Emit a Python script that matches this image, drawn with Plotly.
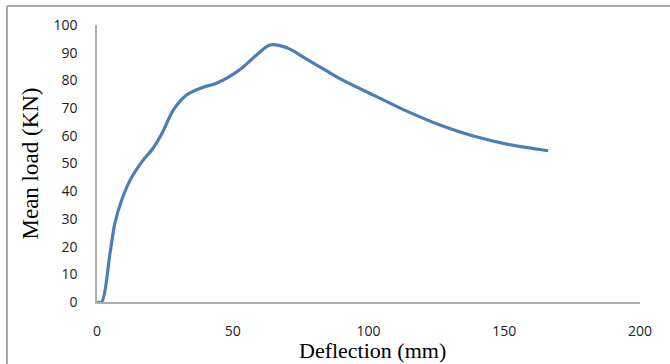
import plotly.graph_objects as go

deflection = [0, 1.7, 4.8, 6.6, 9.1, 12.2, 16.5, 20.7, 24, 28.1, 33, 37.9, 44, 47.8,
              53.3, 58.8, 63.7, 69.9, 76, 84.6, 90.7, 101.8, 114.1, 126.3, 138.6, 150.9, 166.2]
mean_load = [0, 0, 17.7, 28.5, 36.8, 44, 50.6, 55.6, 61, 69.3, 74.7, 77.1, 79, 80.8,
             84.4, 89.2, 92.8, 91.8, 88.4, 83.4, 80, 74.7, 68.9, 63.9, 59.9, 57, 54.6]
x_ticks = [0, 50, 100, 150, 200]
y_ticks = [0, 10, 20, 30, 40, 50, 60, 70, 80, 90, 100]

W, H = 670, 364
L, R, T, B = 97, 30, 25, 62
pw, ph = W - L - R, H - T - B

fig = go.Figure()
fig.add_trace(go.Scatter(
    x=deflection, y=mean_load, mode="lines",
    line=dict(color="#4A7EBB", width=3.2, shape="spline", smoothing=0.9),
    hoverinfo="skip", showlegend=False,
))

axis_font = dict(family="Open Sans, Liberation Sans, sans-serif", size=14, color="#222222")
title_font = dict(family="Liberation Serif, serif", size=23, color="#000000")
xtitle_font = dict(family="Liberation Serif, serif", size=22, color="#000000")

fig.update_layout(
    width=W, height=H,
    margin=dict(l=L, r=R, t=T, b=B),
    paper_bgcolor="white", plot_bgcolor="white",
    xaxis=dict(range=[0, 200], tickvals=x_ticks, showgrid=False, zeroline=False,
               showline=True, linecolor="#ADADAD", linewidth=1.5, ticks="",
               tickfont=axis_font, ticklabelstandoff=15, automargin=False),
    yaxis=dict(range=[0, 100], tickvals=y_ticks, showgrid=False, zeroline=False,
               showline=True, linecolor="#ADADAD", linewidth=1.5, ticks="",
               tickfont=axis_font, ticklabelstandoff=15, automargin=False,
               title=dict(text="Mean load (KN)", font=title_font, standoff=8)),
    annotations=[
        dict(text="Deflection (mm)", xref="paper", yref="paper",
             x=(372 - L) / pw, y=(H - B - 350) / ph, xanchor="center", yanchor="middle",
             showarrow=False, font=xtitle_font, borderpad=0),
    ],
    shapes=[
        dict(type="line", xref="paper", yref="paper",
             x0=(7 - L) / pw, x1=(W + 5 - L) / pw,
             y0=(H - B - 6) / ph, y1=(H - B - 6) / ph,
             line=dict(color="#A8A8A8", width=2)),
        dict(type="line", xref="paper", yref="paper",
             x0=(7 - L) / pw, x1=(7 - L) / pw,
             y0=(H - B - 6) / ph, y1=(H - B - H - 5) / ph,
             line=dict(color="#A8A8A8", width=2)),
    ],
)

fig.write_html("out.html")
